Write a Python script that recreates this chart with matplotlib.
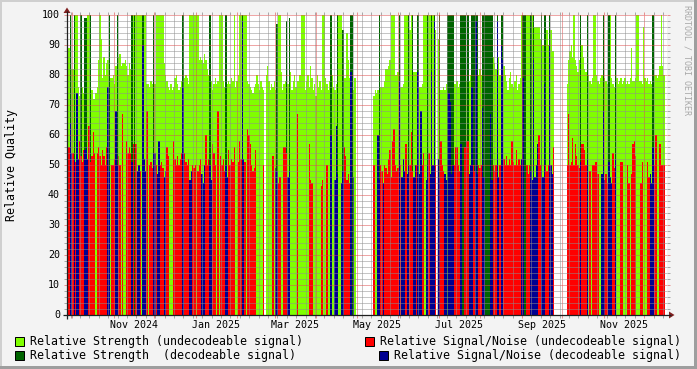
import numpy as np
import matplotlib
matplotlib.use("Agg")
import matplotlib.pyplot as plt
import matplotlib.dates as mdates
from matplotlib.ticker import MultipleLocator
from matplotlib.patches import Polygon, Rectangle
from matplotlib.transforms import blended_transform_factory
from datetime import datetime, timedelta

_ = None  # no sample for that day

# one value per day, first day = left edge of the graph
first_day = datetime(2024, 9, 27, 6)
span_days = 446.8

strength_undec = [
    81, 89, _, 82, 82, _, 100, 100, 76, 73,
    _, 76, 74, _, _, 100, 100, _, 75, 72,
    72, 74, 76, 85, 100, 92, 79, 86, 80, 84,
    85, _, 79, 79, 80, 77, 83, _, 86, 87,
    83, 84, 84, 85, 83, 80, 84, 82, _, 100,
    _, 100, 100, 100, 100, 100, _, 100, 100, 77,
    77, 76, 78, 77, _, 77, 100, 100, 100, 100,
    100, 100, 84, 80, 78, 76, 75, 77, 75, 76,
    79, 80, 77, 75, 76, 78, _, 79, 80, 79,
    77, 100, 100, 100, 100, 100, 100, 100, 85, 86,
    85, 84, 87, 85, 82, 80, _, 78, 75, 77,
    79, 77, 78, 100, 100, 100, 78, 76, _, 77,
    78, 77, 79, 78, 100, 76, 78, 80, 100, 100,
    _, 100, 100, 100, 78, 77, 76, 75, 74, 76,
    77, 80, 77, 75, 78, 76, 75, _, 80, 83,
    78, 75, 77, 76, 78, 75, _, 100, 100, 81,
    75, 77, 78, _, 77, _, 81, 75, 78, 80,
    76, 78, 78, 80, 100, 100, 100, 75, 78, 80,
    76, 83, 79, 75, 77, 73, 80, 76, 78, 75,
    100, 100, 79, 77, 75, 78, _, 80, 76, 75,
    77, _, 100, 100, 100, _, 79, 79, 94, 85,
    79, _, _, 75, 79, _, _, _, _, _,
    _, _, _, _, _, _, _, _, 73, 75,
    74, 75, _, 76, 76, 76, 78, 82, 82, 83,
    85, 100, 100, 100, 80, 80, 81, _, 76, 76,
    77, 100, 100, 100, _, 95, 100, _, 81, 81,
    81, _, 76, 76, 77, 100, 100, 100, _, 100,
    100, _, 100, _, 95, _, 92, _, 75, 75,
    76, 75, 77, _, _, _, _, _, 77, 77,
    78, 76, 77, _, _, _, _, 78, _, 78,
    80, _, _, _, _, _, 80, 82, 80, _,
    _, _, _, _, _, _, _, 86, 84, 82,
    _, 86, 80, _, _, 83, 80, 78, 75, 79,
    81, 77, 76, 78, 80, 75, 77, 79, 100, _,
    _, _, 100, 100, 100, _, 100, _, 96, 96,
    96, 96, 92, _, 90, _, _, 95, 90, _,
    95, 88, 88, _, _, _, _, _, _, _,
    _, _, 77, 85, 88, 90, 86, 100, 85, 83,
    81, 85, _, 90, 86, 82, 81, _, 80, 78,
    77, 79, 100, 100, 80, 78, 77, 79, 80, _,
    79, 78, 77, _, 100, 79, 77, 76, _, 79,
    77, 78, 79, 77, 78, 79, 77, 78, 77, 79,
    89, 78, 78, 79, 100, 100, 78, 78, 77, 96,
    79, 78, 79, 77, 78, 77, _, 80, 80, 79,
    80, 83, 100, 83, 80,
]

strength_dec = [
    _, _, 100, 54, _, 100, _, 74, 52, _,
    100, _, _, 99, 99, 52, _, 100, _, _,
    _, _, _, _, _, _, _, _, _, _,
    76, 100, _, _, _, _, 68, 100, _, _,
    _, _, _, _, _, _, _, _, 100, _,
    100, _, 48, 50, _, _, 100, 52, 48, _,
    _, _, _, _, 100, 54, _, 47, 58, _,
    _, _, 46, 48, _, _, _, _, _, _,
    _, _, _, _, _, _, 100, _, _, _,
    _, 45, 48, _, _, _, _, _, _, _,
    47, 44, 50, _, _, _, 100, 45, _, _,
    _, _, _, _, _, _, _, _, 100, 46,
    _, _, _, _, _, _, _, _, _, _,
    100, 52, _, _, _, _, _, _, _, _,
    _, _, _, _, _, _, _, _, _, _,
    _, _, _, _, _, 49, 97, _, _, _,
    _, _, _, 98, 46, 99, _, _, _, _,
    _, _, _, _, _, _, _, _, _, _,
    _, _, _, _, _, _, _, _, _, _,
    _, _, _, _, _, _, 100, _, _, 45,
    63, 100, _, _, 44, 95, _, _, _, _,
    _, 100, 100, 46, _, _, _, _, _, _,
    _, _, _, _, _, _, _, _, _, _,
    _, 60, 100, _, _, 44, _, _, _, _,
    _, _, _, _, _, _, _, 100, _, 46,
    52, 48, _, 47, 100, _, _, 100, 46, 50,
    _, 100, 47, 68, _, _, _, 45, 100, _,
    47, 100, 50, 100, _, _, 52, 100, _, _,
    _, 47, 45, 100, 100, 100, 100, 100, _, _,
    _, _, _, 100, 100, 100, 100, _, 100, 47,
    50, 100, 100, 100, 100, 100, _, _, _, 100,
    100, 100, 100, 100, 100, 100, 100, _, _, _,
    100, 46, _, 100, 100, _, _, _, _, _,
    _, _, _, _, _, _, _, _, 52, 100,
    100, 100, _, _, _, 100, 45, 100, 46, 50,
    57, _, _, 100, 46, 100, 100, _, _, 100,
    50, 47, _, _, _, _, _, _, _, _,
    _, _, _, _, _, _, _, _, _, _,
    _, _, 100, _, _, _, _, 100, _, _,
    _, _, _, _, _, _, _, _, 47, 100,
    45, _, _, 100, 46, 44, _, _, 100, _,
    _, _, _, _, _, _, _, _, _, _,
    _, _, _, _, _, _, _, _, _, _,
    _, _, _, _, 47, 44, 100, _, _, _,
    _, _, _, _, _,
]

snr_undec = [
    50, 56, _, _, 54, _, 51, _, _, 58,
    53, 51, 55, _, _, _, 63, 51, 53, 61,
    54, _, 54, 56, 53, 50, 55, 53, 50, 56,
    _, _, _, 50, 50, 52, _, _, 53, 50,
    _, 67, _, _, 58, 54, 56, 54, _, 57,
    _, 57, _, _, 48, _, _, _, _, 68,
    _, 50, 51, 49, _, _, 50, _, _, 50,
    51, 49, _, _, 56, 53, _, _, _, 58,
    52, 50, 53, 50, 52, 54, _, 54, 51, 50,
    52, _, _, 50, 49, 50, _, 48, 50, 52,
    _, _, _, 60, 50, 52, _, _, 57, 54,
    50, _, 68, _, 53, 50, 52, 48, _, _,
    55, 50, 52, 51, 56, _, _, 51, 58, 52,
    _, _, 51, _, 62, 60, 57, 50, 48, 49,
    55, _, _, _, _, _, 50, _, _, _,
    _, _, _, 53, _, _, _, 44, 46, _,
    _, 56, 56, 54, _, _, _, _, _, _,
    _, 67, _, _, _, _, _, _, _, _,
    57, 45, 44, _, _, _, _, _, _, 43,
    45, _, _, 50, _, _, _, _, _, _,
    _, _, _, _, _, _, 56, 53, 45, 47,
    44, _, _, _, _, _, _, _, _, _,
    _, _, _, _, _, _, _, _, 50, _,
    _, _, _, 50, 48, _, 50, 49, 47, 52,
    55, 46, 58, 62, 50, 48, 49, _, 50, _,
    _, _, 57, _, _, 50, 61, 48, _, _,
    50, _, _, _, 50, 54, _, _, _, 54,
    _, _, _, _, 50, _, _, _, 58, 50,
    48, _, _, _, _, _, _, _, 50, 56,
    56, 50, 48, _, _, _, 56, 58, 58, _,
    _, _, 50, 48, _, _, 50, 49, 50, _,
    _, _, _, _, _, _, _, 50, 48, 50,
    _, _, 50, _, _, 52, 50, 53, 50, 52,
    50, 58, 51, 50, 55, 50, 52, 50, _, _,
    _, _, 50, 47, 50, _, _, _, _, _,
    _, 60, 50, _, _, _, 50, 48, 50, _,
    _, _, 56, _, _, _, _, _, _, _,
    _, _, 50, 67, 50, 51, 59, 50, 57, 53,
    50, 49, _, 57, 57, 55, 50, _, _, 48,
    _, 50, 50, 51, 51, 47, _, _, _, _,
    _, 47, 44, _, _, _, 54, 49, _, _,
    _, _, 51, 51, _, _, _, 50, 44, _,
    47, 57, 58, 53, _, _, _, 44, 51, _,
    _, _, 51, 46, _, _, _, 50, 60, _,
    _, 57, 50, 50, 50,
]

snr_dec = [
    _, _, 64, 54, _, 52, _, 74, 52, _,
    _, _, _, 55, 56, 52, _, _, _, _,
    _, _, _, _, _, _, _, _, _, _,
    76, 48, _, _, _, _, 68, 50, _, _,
    _, _, _, _, _, _, _, _, 51, _,
    _, _, 48, 50, _, _, 90, 52, 48, _,
    _, _, _, _, 54, 54, _, 47, 58, _,
    _, _, 46, 48, _, _, _, _, _, _,
    _, _, _, _, _, _, 76, _, _, _,
    _, 45, 48, _, _, _, _, _, _, _,
    47, 44, 50, _, _, _, 50, 45, _, _,
    _, _, _, _, _, _, _, _, 50, 46,
    _, _, _, _, _, _, _, _, _, _,
    98, 52, _, _, _, _, _, _, _, _,
    _, _, _, _, _, _, _, _, _, _,
    _, _, _, _, _, 49, 48, _, _, _,
    _, _, _, _, 46, 48, _, _, _, _,
    _, _, _, _, _, _, _, _, _, _,
    _, _, _, _, _, _, _, _, _, _,
    _, _, _, _, _, _, 60, _, _, 45,
    63, 47, _, _, 44, 48, _, _, _, _,
    _, 81, _, 46, _, _, _, _, _, _,
    _, _, _, _, _, _, _, _, _, _,
    _, 60, 45, _, _, 44, _, _, _, _,
    _, _, _, _, _, _, _, 78, _, 46,
    52, 48, _, 47, 50, _, _, _, 46, 50,
    _, 81, 47, 68, _, _, _, 45, 50, _,
    47, 81, 50, 98, _, _, 52, 46, _, _,
    _, 47, 45, _, 74, 71, 47, 50, _, _,
    _, _, _, 57, _, _, _, _, _, 47,
    50, 76, _, _, 98, 47, _, _, _, 69,
    46, _, _, _, _, 67, 45, _, _, _,
    98, 46, _, 90, 85, _, _, _, _, _,
    _, _, _, _, _, _, _, _, 52, 79,
    _, _, _, _, _, 48, 45, 85, 46, 50,
    57, _, _, 48, 46, 77, _, _, _, 90,
    50, 47, _, _, _, _, _, _, _, _,
    _, _, _, _, _, _, _, _, _, _,
    _, _, 51, _, _, _, _, 52, _, _,
    _, _, _, _, _, _, _, _, 47, 68,
    45, _, _, 51, 46, 44, _, _, 52, _,
    _, _, _, _, _, _, _, _, _, _,
    _, _, _, _, _, _, _, _, _, _,
    _, _, _, _, 47, 44, 56, _, _, _,
    _, _, _, _, _,
]

series_labels = [
    "Relative Strength (undecodeable signal)",
    "Relative Strength  (decodeable signal)",
    "Relative Signal/Noise (undecodeable signal)",
    "Relative Signal/Noise (decodeable signal)",
]
series_colors = ["#80FF00", "#006400", "#FF0000", "#000090"]

month_labels = ["Nov 2024", "Jan 2025", "Mar 2025", "May 2025",
                "Jul 2025", "Sep 2025", "Nov 2025"]
month_starts = [datetime(2024, 11, 1), datetime(2025, 1, 1), datetime(2025, 3, 1),
                datetime(2025, 5, 1), datetime(2025, 7, 1), datetime(2025, 9, 1),
                datetime(2025, 11, 1)]

lens = {len(strength_undec), len(strength_dec), len(snr_undec), len(snr_dec)}
if len(lens) != 1:
    raise ValueError("series lengths differ: %s" % [len(strength_undec), len(strength_dec),
                                                    len(snr_undec), len(snr_dec)])

MONO = "DejaVu Sans Mono"
W, H = 697, 369
GRID = (0.56, 0.56, 0.56, 0.75)
MGRID = (0.87, 0.31, 0.31, 0.60)

fig = plt.figure(figsize=(W / 100, H / 100), dpi=100, facecolor="#F3F3F3")

# plot area: x 67..667, y 15..315 in pixels
ax = fig.add_axes([67 / W, 54 / H, 600 / W, 300 / H])
ax.set_facecolor("white")
for s in ax.spines.values():
    s.set_visible(False)

x0 = mdates.date2num(first_day)
day_left = x0 + np.arange(len(strength_undec))

for vals, col in zip([strength_undec, strength_dec, snr_undec, snr_dec], series_colors):
    v = np.array([np.nan if a is None else a for a in vals], dtype=float)
    m = ~np.isnan(v)
    ax.bar(day_left[m], v[m], width=1.0, align="edge", color=col,
           linewidth=0, antialiased=False, zorder=1)

ax.set_xlim(x0, x0 + span_days)
ax.set_ylim(0, 100)
ax.xaxis_date()

ax.yaxis.set_major_locator(MultipleLocator(10))
ax.yaxis.set_minor_locator(MultipleLocator(2))
ax.xaxis.set_major_locator(mdates.MonthLocator())
ax.xaxis.set_minor_locator(mdates.WeekdayLocator(byweekday=mdates.MO))

ax.set_axisbelow(False)
ax.grid(which="major", color=MGRID, linestyle=(0, (1, 1)), linewidth=0.72)
ax.grid(which="minor", color=GRID, linestyle=(0, (1, 1)), linewidth=0.72)
ax.tick_params(which="both", labelbottom=False, labelleft=False,
               top=True, right=True, direction="out", width=0.72)
ax.tick_params(which="major", length=2.2, color=MGRID)
ax.tick_params(which="minor", length=2.2, color=GRID)

# overlay in pixel coordinates for axis lines, arrows, labels and legend
ov = fig.add_axes([0, 0, 1, 1], zorder=5)
ov.set_xlim(0, W)
ov.set_ylim(H, 0)
ov.axis("off")
ov.patch.set_visible(False)

# 3d-ish frame around the canvas
ov.add_patch(Rectangle((0, 0), W, 2, color="#CFCFCF", lw=0))
ov.add_patch(Rectangle((0, 0), 2, H, color="#CFCFCF", lw=0))
ov.add_patch(Rectangle((0, H - 3), W, 3, color="#9E9E9E", lw=0))
ov.add_patch(Rectangle((W - 3, 0), 3, H, color="#9E9E9E", lw=0))

ov.plot([63, 671], [315, 315], color="#1F1F1F", lw=0.9, solid_capstyle="butt")
ov.plot([67, 67], [319, 11], color="#1F1F1F", lw=0.9, solid_capstyle="butt")
ov.add_patch(Polygon([(669, 311.5), (669, 318.5), (674.5, 315)], closed=True,
                     color="#7F1F1F", lw=0))
ov.add_patch(Polygon([(63.5, 13), (70.5, 13), (67, 7.5)], closed=True,
                     color="#7F1F1F", lw=0))

for v in range(0, 101, 10):
    ov.text(60, 315 - 3 * v, str(v), ha="right", va="center",
            fontsize=7.2, family=MONO, color="black")

lab_tr = blended_transform_factory(ax.transData, ov.transData)
for lab, d in zip(month_labels, month_starts):
    ov.text(mdates.date2num(d + timedelta(days=15)), 324.5, lab, transform=lab_tr,
            ha="center", va="center", fontsize=7.2, family=MONO, color="black")

ov.text(11.5, 165, "Relative Quality", rotation=90, ha="center", va="center",
        fontsize=8.4, family=MONO, color="black")
ov.text(686.5, 5, "RRDTOOL / TOBI OETIKER", rotation=270, ha="center", va="top",
        fontsize=6, family=MONO, color="#A8A8A8")

# legend
legend_spots = [(15, 337, 30, 341.5), (15, 351, 30, 355.5),
                (365, 337, 380, 341.5), (379, 351, 394, 355.5)]
for (bx, by, tx, ty), lab, col in zip(legend_spots, series_labels, series_colors):
    ov.add_patch(Rectangle((bx, by), 9, 9, facecolor=col, edgecolor="black", lw=0.72))
    ov.text(tx, ty, lab, ha="left", va="center", fontsize=8.4, family=MONO, color="black")

fig.savefig("out.png", dpi=100, facecolor=fig.get_facecolor())
